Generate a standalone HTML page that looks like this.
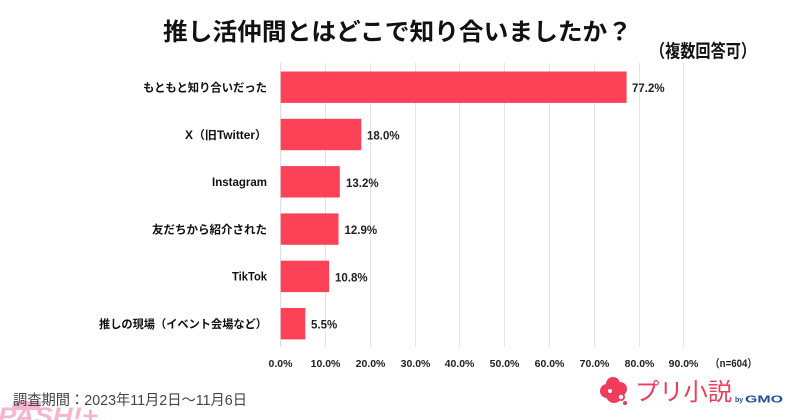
<!DOCTYPE html>
<html><head><meta charset="utf-8"><style>
html,body{margin:0;padding:0;background:#fff;}
svg{display:block;}
text{font-family:"Liberation Sans","Noto Sans CJK JP",sans-serif;}
</style></head><body>
<svg width="800" height="420" viewBox="0 0 800 420" xmlns="http://www.w3.org/2000/svg">
<rect width="800" height="420" fill="#fff"/>
<!-- title -->
<text x="163" y="40" font-size="24" font-weight="bold" fill="#111" textLength="469" lengthAdjust="spacingAndGlyphs">推し活仲間とはどこで知り合いましたか？</text>
<text x="650" y="57.5" font-size="18" font-weight="bold" fill="#111" textLength="106" lengthAdjust="spacingAndGlyphs">（複数回答可）</text>
<!-- gridlines -->
<g stroke="#e4e4e4" stroke-width="1">
<line x1="325.5" y1="63" x2="325.5" y2="347"/>
<line x1="370.5" y1="63" x2="370.5" y2="347"/>
<line x1="415.5" y1="63" x2="415.5" y2="347"/>
<line x1="459.5" y1="63" x2="459.5" y2="347"/>
<line x1="504.5" y1="63" x2="504.5" y2="347"/>
<line x1="549.5" y1="63" x2="549.5" y2="347"/>
<line x1="594.5" y1="63" x2="594.5" y2="347"/>
<line x1="639.5" y1="63" x2="639.5" y2="347"/>
<line x1="683.5" y1="63" x2="683.5" y2="347"/>
</g>
<line x1="280.7" y1="63" x2="280.7" y2="347" stroke="#d8d8d8" stroke-width="1"/>
<!-- bars -->
<g fill="#fd4257">
<rect x="280.7" y="71.5" width="345.9" height="31.4"/>
<rect x="280.7" y="118.8" width="80.6" height="31.4"/>
<rect x="280.7" y="166.1" width="59.1" height="31.4"/>
<rect x="280.7" y="213.4" width="57.8" height="31.4"/>
<rect x="280.7" y="260.7" width="48.4" height="31.4"/>
<rect x="280.7" y="308" width="24.6" height="31.4"/>
</g>
<!-- value labels -->
<g font-size="11.5" font-weight="bold" fill="#222">
<text x="632" y="92">77.2%</text>
<text x="367" y="139.5">18.0%</text>
<text x="346" y="186.8">13.2%</text>
<text x="344.5" y="234.1">12.9%</text>
<text x="335" y="281.4">10.8%</text>
<text x="311" y="328.7">5.5%</text>
</g>
<!-- category labels -->
<g font-size="11.5" font-weight="bold" fill="#111" text-anchor="end">
<text x="267" y="91.5" textLength="124" lengthAdjust="spacingAndGlyphs">もともと知り合いだった</text>
<text x="267" y="138.8" textLength="82" lengthAdjust="spacingAndGlyphs">X（旧Twitter）</text>
<text x="267" y="186.1" textLength="55" lengthAdjust="spacingAndGlyphs">Instagram</text>
<text x="267" y="233.4" textLength="115" lengthAdjust="spacingAndGlyphs">友だちから紹介された</text>
<text x="267" y="280.7" textLength="35" lengthAdjust="spacingAndGlyphs">TikTok</text>
<text x="267" y="328" textLength="168" lengthAdjust="spacingAndGlyphs">推しの現場（イベント会場など）</text>
</g>
<!-- x tick labels -->
<g font-size="10.5" font-weight="bold" fill="#222" text-anchor="middle">
<text x="280.5" y="367">0.0%</text>
<text x="325.5" y="367">10.0%</text>
<text x="370.5" y="367">20.0%</text>
<text x="415.5" y="367">30.0%</text>
<text x="459.5" y="367">40.0%</text>
<text x="504.5" y="367">50.0%</text>
<text x="549.5" y="367">60.0%</text>
<text x="594.5" y="367">70.0%</text>
<text x="639.5" y="367">80.0%</text>
<text x="683.5" y="367">90.0%</text>
</g>
<text x="710" y="367" font-size="11" font-weight="bold" fill="#222" textLength="47" lengthAdjust="spacingAndGlyphs">（n=604）</text>
<!-- PASH logo -->
<g opacity="0.85">
<text x="-2" y="424" font-size="24" font-weight="bold" font-style="italic" fill="#f7a9ca" textLength="100" lengthAdjust="spacingAndGlyphs">PASH!+</text>
<rect x="84" y="401" width="28" height="9" fill="#f7a9ca" transform="skewX(-10)"/>
<text x="88" y="409" font-size="8" font-weight="bold" fill="#fff">PLUS</text>
</g>
<!-- footer -->
<text x="13" y="405" font-size="14.5" fill="#444" textLength="234" lengthAdjust="spacingAndGlyphs">調査期間：2023年11月2日～11月6日</text>
<!-- GMO logo -->
<g fill="#f03c5a">
<circle cx="613" cy="384" r="7"/>
<circle cx="620" cy="389" r="7"/>
<circle cx="607" cy="391" r="7"/>
<circle cx="614" cy="395" r="8"/>
<circle cx="621" cy="397" r="4"/>
<circle cx="625" cy="403" r="2"/>
</g>
<circle cx="610" cy="391" r="2" fill="#fff"/>
<circle cx="621" cy="397" r="2.2" fill="#fff"/>
<text x="635" y="400" font-size="24" fill="#f03c5a" textLength="97" lengthAdjust="spacingAndGlyphs">プリ小説</text>
<text x="735" y="402" font-size="7" font-weight="bold" fill="#1e4fa0">by</text>
<text x="745" y="402.5" font-size="10" font-weight="bold" fill="#1e4fa0" textLength="38" lengthAdjust="spacingAndGlyphs">GMO</text>
</svg>
</body></html>
